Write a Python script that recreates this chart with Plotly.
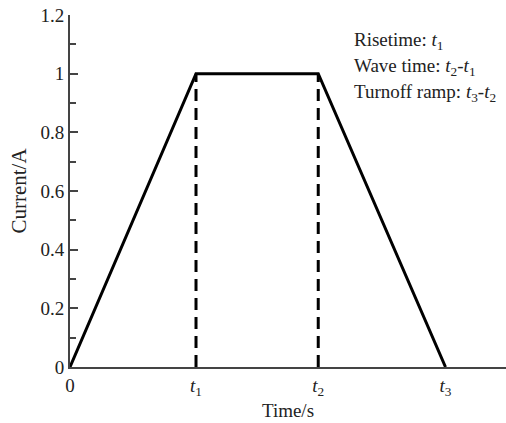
import plotly.graph_objects as go

# data
t_values = [0.0, 1.0, 1.97, 2.98]          # 0, t1, t2, t3
current_values = [0.0, 1.0, 1.0, 0.0]
x_tick_labels = ["0", "<i>t</i><sub>1</sub>", "<i>t</i><sub>2</sub>", "<i>t</i><sub>3</sub>"]
y_ticks = [0, 0.2, 0.4, 0.6, 0.8, 1.0, 1.2]
y_tick_labels = ["0", "0.2", "0.4", "0.6", "0.8", "1", "1.2"]
notes = ["Risetime: <i>t</i><sub>1</sub>",
         "Wave time: <i>t</i><sub>2</sub>-<i>t</i><sub>1</sub>",
         "Turnoff ramp: <i>t</i><sub>3</sub>-<i>t</i><sub>2</sub>"]
x_title = "Time/s"
y_title = "Current/A"

FONT = "Liberation Serif, Times New Roman, serif"
TICKFONT = dict(family=FONT, size=19, color="#222")

fig = go.Figure()
# dashed verticals at t1 and t2
for t in (t_values[1], t_values[2]):
    fig.add_trace(go.Scatter(x=[t, t], y=[0, 1.0], mode="lines",
                             line=dict(color="black", width=3, dash="12px,7px"),
                             showlegend=False, hoverinfo="skip"))
fig.add_trace(go.Scatter(x=t_values, y=current_values, mode="lines",
                         line=dict(color="black", width=3),
                         showlegend=False))

for i, txt in enumerate(notes):
    fig.add_annotation(xref="paper", yref="paper", x=0.646, y=0.925 - i * 0.074,
                       xanchor="left", yanchor="middle", text=txt, showarrow=False,
                       font=dict(family=FONT, size=19, color="#222"))

fig.update_layout(
    width=506, height=423,
    margin=dict(l=70, r=0, t=15, b=56),
    paper_bgcolor="white", plot_bgcolor="white",
    font=dict(family=FONT, size=19, color="#222"),
    modebar=dict(bgcolor="rgba(0,0,0,0)", color="rgba(0,0,0,0)",
                 activecolor="rgba(0,0,0,0)"),
    xaxis=dict(range=[0, 3.46], tickmode="array", tickvals=t_values,
               ticktext=x_tick_labels, ticks="", showgrid=False, zeroline=False,
               showline=True, linecolor="#444", linewidth=2, tickfont=TICKFONT,
               title=dict(text=x_title, standoff=6, font=dict(family=FONT, size=19))),
    yaxis=dict(range=[0, 1.2], tickmode="array", tickvals=y_ticks,
               ticktext=y_tick_labels, ticks="inside", ticklen=8, tickwidth=2,
               tickcolor="#444", tickfont=TICKFONT,
               minor=dict(ticks="inside", ticklen=6, tickwidth=2, tickcolor="#444", dtick=0.1),
               showgrid=False, zeroline=False,
               showline=True, linecolor="#444", linewidth=2,
               title=dict(text=y_title, standoff=8, font=dict(family=FONT, size=21))),
)

fig.write_html(
    "out.html",
    post_script=(
        "document.body.style.margin='0';document.body.style.overflow='hidden';"
        "var s=document.createElement('style');"
        "s.innerHTML='.modebar-btn--logo{opacity:0 !important;}';"
        "document.head.appendChild(s);"
    ),
)
